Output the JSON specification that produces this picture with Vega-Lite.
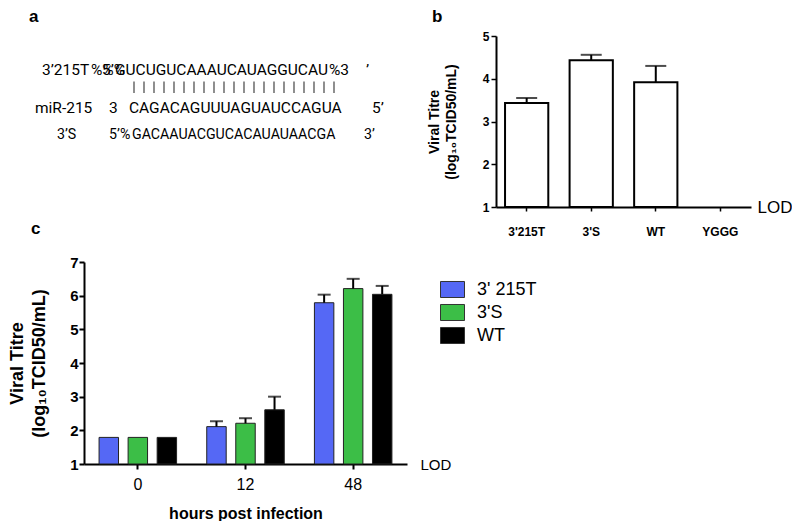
{
  "$schema": "https://vega.github.io/schema/vega-lite/v6.json",
  "padding": {"left": 8, "top": 8, "right": 0, "bottom": 0},
  "background": "white",
  "config": {
    "view": {"stroke": null},
    "font": "Liberation Sans",
    "title": {"fontSize": 17, "fontWeight": "bold", "anchor": "start", "frame": "group", "color": "black", "offset": 4},
    "axis": {"domainColor": "black", "tickColor": "black", "labelColor": "black", "titleColor": "black", "grid": false}
  },
  "datasets": {
    "aText": [
      {"line": 1, "x": -42, "y": 41, "txt": "3’215T"},
      {"line": 1, "x": 7, "y": 41, "txt": "%%%"},
      {"line": 1, "x": 18, "y": 41, "txt": "5’"},
      {"line": 1, "x": 31, "y": 41, "txt": "GUCUGUCAAAUCAUAGGUCAU"},
      {"line": 1, "x": 245, "y": 41, "txt": "%3"},
      {"line": 1, "x": 282, "y": 41, "txt": "’"},
      {"line": 2, "x": -49, "y": 81, "txt": "miR-215"},
      {"line": 2, "x": 25, "y": 81, "txt": "3"},
      {"line": 2, "x": 45, "y": 81, "txt": "CAGACAGUUUAGUAUCCAGUA"},
      {"line": 2, "x": 288, "y": 81, "txt": "5’"},
      {"line": 3, "x": -27, "y": 108, "txt": "3’S"},
      {"line": 3, "x": 25, "y": 108, "txt": "5’"},
      {"line": 3, "x": 36, "y": 108, "txt": "%"},
      {"line": 3, "x": 48, "y": 108, "txt": "GACAAUACGUCACAUAUAACGA"},
      {"line": 3, "x": 280, "y": 108, "txt": "3’"}
    ],
    "pairs": [
      {"x": 50}, {"x": 60}, {"x": 70}, {"x": 80}, {"x": 90}, {"x": 100}, {"x": 110},
      {"x": 120}, {"x": 130}, {"x": 140}, {"x": 150}, {"x": 160}, {"x": 170}, {"x": 180},
      {"x": 190}, {"x": 200}, {"x": 210}, {"x": 220}, {"x": 230}, {"x": 240}, {"x": 250}
    ],
    "b": [
      {"strain": "3'215T", "titre": 3.43, "upper": 3.55},
      {"strain": "3'S", "titre": 4.43, "upper": 4.56},
      {"strain": "WT", "titre": 3.92, "upper": 4.30},
      {"strain": "YGGG"}
    ],
    "c": [
      {"hours": "0", "strain": "3' 215T", "titre": 1.79},
      {"hours": "0", "strain": "3'S", "titre": 1.79},
      {"hours": "0", "strain": "WT", "titre": 1.79},
      {"hours": "12", "strain": "3' 215T", "titre": 2.11, "upper": 2.27},
      {"hours": "12", "strain": "3'S", "titre": 2.21, "upper": 2.36},
      {"hours": "12", "strain": "WT", "titre": 2.61, "upper": 3.0},
      {"hours": "48", "strain": "3' 215T", "titre": 5.79, "upper": 6.03},
      {"hours": "48", "strain": "3'S", "titre": 6.21, "upper": 6.5},
      {"hours": "48", "strain": "WT", "titre": 6.04, "upper": 6.29}
    ]
  },
  "bounds": "flush",
  "align": "each",
  "columns": 2,
  "spacing": {"row": 55, "column": 89},
  "resolve": {"legend": {"color": "independent"}},
  "concat": [
    {
      "title": {"text": "a", "dx": -55, "offset": 10},
      "width": 300,
      "height": 171,
      "layer": [
        {
          "data": {"name": "aText"},
          "transform": [{"filter": "datum.line < 3"}],
          "mark": {"type": "text", "align": "left", "baseline": "alphabetic", "font": "Roboto", "fontSize": 15.5, "color": "black"},
          "encoding": {
            "x": {"field": "x", "type": "quantitative", "scale": {"domain": [0, 300]}, "axis": null},
            "y": {"field": "y", "type": "quantitative", "scale": {"domain": [0, 171], "reverse": true}, "axis": null},
            "text": {"field": "txt"}
          }
        },
        {
          "data": {"name": "aText"},
          "transform": [{"filter": "datum.line == 3"}],
          "mark": {"type": "text", "align": "left", "baseline": "alphabetic", "font": "Roboto", "fontSize": 14.2, "color": "black"},
          "encoding": {
            "x": {"field": "x", "type": "quantitative"},
            "y": {"field": "y", "type": "quantitative"},
            "text": {"field": "txt"}
          }
        },
        {
          "data": {"name": "pairs"},
          "mark": {"type": "rule", "color": "#444444", "strokeWidth": 1.2},
          "encoding": {
            "x": {"field": "x", "type": "quantitative"},
            "y": {"datum": 48},
            "y2": {"datum": 60}
          }
        }
      ]
    },
    {
      "title": {"text": "b", "dx": -64},
      "width": 255,
      "height": 171,
      "data": {"name": "b"},
      "resolve": {"axis": {"y": "independent"}},
      "layer": [
        {
          "mark": {"type": "bar", "fill": "white", "stroke": "black", "strokeWidth": 2},
          "encoding": {
            "x": {"field": "strain", "type": "nominal",
              "scale": {"domain": ["3'215T", "3'S", "WT", "YGGG"], "paddingInner": 0.33, "paddingOuter": 0.14, "align": 0.5},
              "axis": {"title": null, "labelAngle": 0, "labelFontSize": 12, "labelFontWeight": "bold", "labelPadding": 15, "tickSize": 4, "tickWidth": 1.5, "domainWidth": 2}},
            "y": {"field": "titre", "type": "quantitative", "scale": {"domain": [1, 5]},
              "axis": {"values": [1, 2, 3, 4, 5], "format": "d", "labelFontSize": 12, "labelFontWeight": "bold", "labelPadding": 2, "tickSize": 5, "tickWidth": 1.5, "domainWidth": 2,
                "title": ["Viral Titre", "(log₁₀TCID50/mL)"], "titleFontSize": 14, "titleFontWeight": "bold", "titleLineHeight": 17, "titlePadding": 24}},
            "y2": {"datum": 1}
          }
        },
        {
          "transform": [{"filter": "isValid(datum.upper)"}],
          "mark": {"type": "rule", "color": "black", "strokeWidth": 2},
          "encoding": {
            "x": {"field": "strain", "type": "nominal"},
            "y": {"field": "titre", "type": "quantitative", "axis": null},
            "y2": {"field": "upper"}
          }
        },
        {
          "transform": [{"filter": "isValid(datum.upper)"}],
          "mark": {"type": "tick", "color": "black", "thickness": 2, "size": 21},
          "encoding": {
            "x": {"field": "strain", "type": "nominal"},
            "y": {"field": "upper", "type": "quantitative",
              "axis": {"orient": "right", "values": [1], "labelExpr": "'LOD'", "domain": false, "ticks": false, "labelPadding": 6, "labelFontSize": 17, "title": null}}
          }
        }
      ]
    },
    {
      "title": {"text": "c", "dx": -53, "offset": 17},
      "width": 323,
      "height": 202,
      "data": {"name": "c"},
      "resolve": {"axis": {"y": "independent"}},
      "layer": [
        {
          "mark": {"type": "bar", "stroke": "#222222", "strokeWidth": 1},
          "encoding": {
            "x": {"field": "hours", "type": "nominal", "sort": ["0", "12", "48"],
              "scale": {"paddingInner": 0.28, "paddingOuter": 0.14},
              "axis": {"title": "hours post infection", "titleFontSize": 16, "titleFontWeight": "bold", "titlePadding": 13, "labelFontSize": 16, "labelAngle": 0, "labelPadding": 7, "tickSize": 5, "tickWidth": 2, "domainWidth": 2}},
            "xOffset": {"field": "strain", "type": "nominal", "sort": ["3' 215T", "3'S", "WT"], "scale": {"paddingInner": 0.33, "paddingOuter": 0}},
            "y": {"field": "titre", "type": "quantitative", "scale": {"domain": [1, 7]},
              "axis": {"values": [1, 2, 3, 4, 5, 6, 7], "format": "d", "labelFontSize": 15, "labelFontWeight": "bold", "labelPadding": 1, "tickSize": 5, "tickWidth": 2, "domainWidth": 2,
                "title": ["Viral Titre", "(log₁₀TCID50/mL)"], "titleFontSize": 18, "titleFontWeight": "bold", "titleLineHeight": 22, "titlePadding": 21}},
            "y2": {"datum": 1},
            "color": {"field": "strain", "type": "nominal",
              "scale": {"domain": ["3' 215T", "3'S", "WT"], "range": ["#5568F5", "#3CBE47", "#000000"]},
              "legend": {"title": null, "orient": "none", "legendX": 356, "legendY": 15, "symbolType": "M-1,-0.667H1V0.667H-1Z", "symbolSize": 576, "symbolStrokeColor": "#333333", "symbolStrokeWidth": 1, "symbolOpacity": 1, "labelFontSize": 18, "labelOffset": 12, "rowPadding": 0, "labelColor": "black"}}
          }
        },
        {
          "transform": [{"filter": "isValid(datum.upper)"}],
          "mark": {"type": "rule", "color": "black", "strokeWidth": 2},
          "encoding": {
            "x": {"field": "hours", "type": "nominal", "sort": ["0", "12", "48"]},
            "xOffset": {"field": "strain", "type": "nominal", "sort": ["3' 215T", "3'S", "WT"]},
            "y": {"field": "titre", "type": "quantitative", "axis": null},
            "y2": {"field": "upper"}
          }
        },
        {
          "transform": [{"filter": "isValid(datum.upper)"}],
          "mark": {"type": "tick", "color": "black", "thickness": 2, "size": 13},
          "encoding": {
            "x": {"field": "hours", "type": "nominal", "sort": ["0", "12", "48"]},
            "xOffset": {"field": "strain", "type": "nominal", "sort": ["3' 215T", "3'S", "WT"]},
            "y": {"field": "upper", "type": "quantitative",
              "axis": {"orient": "right", "values": [1], "labelExpr": "'LOD'", "domain": false, "ticks": false, "labelPadding": 13, "labelFontSize": 15, "title": null}}
          }
        }
      ]
    }
  ]
}
